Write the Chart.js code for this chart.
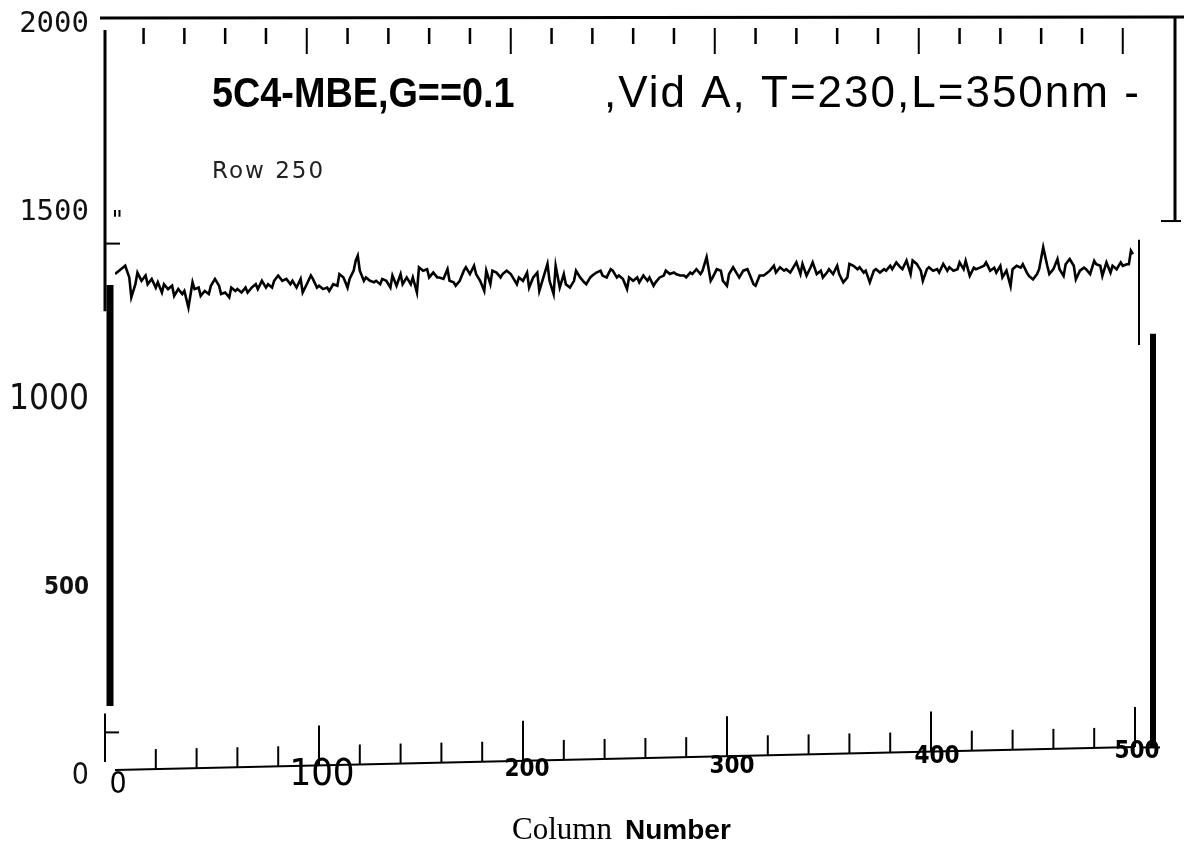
<!DOCTYPE html>
<html>
<head>
<meta charset="utf-8">
<style>
html,body{margin:0;padding:0;background:#fff;}
canvas{display:block;}
</style>
<script src="https://cdn.jsdelivr.net/npm/chart.js@4.4.1/dist/chart.umd.min.js"></script>
</head>
<body>
<canvas id="c" width="1184" height="853"></canvas>
<script>
// ---- data (Row 250) ----
const columns = [
0,2,5,7,8,10,11,13,15,16,18,20,21,23,24,26,28,29,31,33,34,36,38,39,41,42,44,46,47,49,51,52,54,56,57,59,60,62,64,65,67,69,70,72,74,75,77,78,80,82,
84,86,87,89,91,92,94,96,97,99,100,102,104,105,107,109,110,112,114,115,117,118,119,120,122,123,125,127,128,130,131,133,135,136,138,140,141,143,145,146,148,149,151,153,154,156,158,159,161,163,164,166,
167,169,171,172,174,176,177,179,181,182,184,185,187,189,190,192,194,195,197,198,200,202,203,205,207,208,210,212,213,215,216,218,220,221,223,225,226,228,230,231,233,234,236,238,239,241,243,244,246,247,249,
251,252,254,256,257,259,261,262,264,265,267,269,270,272,274,275,277,279,280,282,283,285,287,288,290,292,293,295,297,298,300,301,303,305,306,308,310,311,313,314,316,318,319,321,323,324,326,328,329,331,
332,334,336,337,339,341,342,344,346,347,349,350,352,354,355,357,359,360,362,364,365,367,368,370,372,373,375,377,378,380,381,383,385,386,388,390,391,393,395,396,398,399,401,403,404,406,408,409,411,413,414,416,
417,419,421,422,424,426,427,429,431,432,434,435,437,439,440,442,444,445,447,448,450,452,453,455,457,458,460,462,463,465,466,468,470,471,473,475,476,478,480,481,483,484,486,488,489,491,493,494,496,497,498,499];
const intensity = [
1319,1328,1341,1310,1257,1292,1323,1301,1315,1292,1306,1283,1297,1270,1292,1279,1288,1261,1279,1266,1274,1230,1297,1279,1283,1261,1274,1266,1288,1306,1288,1266,1270,1257,1283,1274,1279,1270,1283,1270,1283,1292,1279,1301,1283,1292,1283,1301,1315,1301,
1306,1292,1301,1283,1306,1270,1292,1315,1306,1283,1288,1279,1283,1274,1292,1288,1319,1310,1283,1306,1328,1355,1368,1328,1301,1310,1301,1297,1301,1292,1306,1301,1283,1315,1288,1319,1292,1310,1292,1310,1270,1337,1328,1332,1310,1323,1310,1310,1306,1332,1301,1297,
1288,1301,1328,1337,1319,1341,1319,1301,1274,1328,1292,1328,1323,1310,1319,1328,1319,1310,1292,1310,1301,1323,1283,1310,1323,1274,1310,1346,1301,1266,1341,1283,1319,1292,1283,1301,1328,1310,1297,1292,1310,1315,1323,1328,1315,1310,1332,1328,1310,1315,1306,
1279,1310,1301,1310,1297,1315,1301,1310,1288,1297,1310,1315,1328,1319,1323,1319,1315,1315,1310,1323,1319,1332,1319,1328,1364,1301,1310,1332,1328,1301,1288,1319,1337,1319,1310,1328,1332,1319,1292,1288,1315,1315,1319,1328,1341,1323,1337,1328,1332,1323,
1332,1350,1319,1346,1315,1337,1350,1319,1328,1310,1323,1332,1319,1341,1319,1297,1310,1346,1341,1332,1337,1323,1328,1297,1328,1332,1323,1332,1328,1341,1332,1350,1337,1332,1355,1319,1355,1346,1328,1301,1332,1337,1328,1332,1323,1346,1328,1337,1328,1332,1350,1332,
1354,1314,1336,1332,1336,1341,1350,1328,1336,1323,1341,1310,1328,1287,1332,1341,1336,1345,1323,1314,1305,1319,1332,1390,1341,1319,1332,1359,1332,1314,1345,1359,1341,1305,1328,1336,1332,1319,1354,1345,1341,1314,1350,1323,1341,1332,1350,1341,1345,1345,1381,1372];
const xTicks = [0,100,200,300,400,500];
const yTicks = [0,500,1000,1500,2000];
const titleBold = "5C4-MBE,G==0.1";
const titleRest = ",Vid A, T=230,L=350nm -";
const subTitle = "Row 250";
const xTitleA = "Column";
const xTitleB = "Number";

const COND = "'DejaVu Sans Condensed','DejaVu Sans', sans-serif";
const MONO = "'DejaVu Sans Mono', monospace";
const yFonts = {
  2000:{family:MONO, size:29, weight:'normal'},
  1500:{family:MONO, size:29, weight:'normal'},
  1000:{family:COND, size:35, weight:'normal'},
  500:{family:COND, size:24, weight:'bold'},
  0:{family:COND, size:30, weight:'normal'}
};
// per-label look of the x tick labels in the scan (font, nudge relative to the tick)
const xLabelStyle = {
  0:{font:"30px "+COND, dx:3, dy:15},
  100:{font:"38px "+COND, dx:3, dy:5},
  200:{font:"bold 24px "+COND, dx:4, dy:0},
  300:{font:"bold 24px "+COND, dx:5, dy:-3},
  400:{font:"bold 24px "+COND, dx:6, dy:-13},
  500:{font:"bold 24px "+COND, dx:2, dy:-18}
};

const points = columns.map((c,i)=>({x:c,y:intensity[i]}));

const decor = {
  id:'decor',
  beforeDatasetsDraw(chart){
    const ctx = chart.ctx, xs = chart.scales.x, ys = chart.scales.y, ca = chart.chartArea;
    ctx.save();
    ctx.strokeStyle = '#000';
    ctx.lineCap = 'butt';
    const line = (x1,y1,x2,y2,w)=>{ctx.lineWidth=w;ctx.beginPath();ctx.moveTo(x1,y1);ctx.lineTo(x2,y2);ctx.stroke();};
    const top = ys.getPixelForValue(2000);
    // top border
    line(ca.left-15, top, chart.width, top-1, 3);
    // top ticks
    for(let k=1;k<=25;k++){
      const c = 20*k-6;
      const x = xs.getPixelForValue(c);
      const long = k%5===0;
      line(x, top+10, x, top+(long?36:26), long?2:2.5);
    }
    // left axis
    const lx = ca.left-10;
    line(lx, top+12, lx, ys.getPixelForValue(1220), 3);
    line(lx+5, ys.getPixelForValue(1290), lx+5, ys.getPixelForValue(170), 7);
    line(lx, ys.getPixelForValue(1400), lx+15, ys.getPixelForValue(1400), 2);
    line(lx, ys.getPixelForValue(100), lx+14, ys.getPixelForValue(100), 2);
    line(lx, ys.getPixelForValue(150), lx, ys.getPixelForValue(0)-8, 2);
    // bottom axis (slightly skewed as in the scan)
    const y0 = ys.getPixelForValue(0);
    const skew = 23;
    const by = c => y0 - skew*(c/500);
    line(xs.getPixelForValue(0), y0, xs.getPixelForValue(500), by(500), 2);
    for(let c=20;c<=500;c+=20){
      const x = xs.getPixelForValue(c);
      const major = c%100===0;
      const h = major ? 40 : 20;
      line(x, by(c), x, by(c)-h, 2);
    }
    // right side marks
    const rx = ca.right;
    line(rx+40, top, rx+40, ys.getPixelForValue(1460), 3);
    line(rx+26, ys.getPixelForValue(1460), rx+46, ys.getPixelForValue(1460), 2);
    line(rx+4, ys.getPixelForValue(1410), rx+4, ys.getPixelForValue(1130), 2);
    line(rx+18, ys.getPixelForValue(1160), rx+18, ys.getPixelForValue(60), 6);
    line(rx+5, ys.getPixelForValue(60), rx+25, ys.getPixelForValue(60), 2);
    ctx.restore();
  },
  afterDraw(chart){
    const ctx = chart.ctx, xs = chart.scales.x, ys = chart.scales.y;
    ctx.save();
    ctx.fillStyle = '#000';
    // x tick labels, placed from the x scale's own ticks
    ctx.textAlign = 'center';
    ctx.textBaseline = 'middle';
    const y0 = ys.getPixelForValue(0);
    xs.ticks.forEach(t=>{
      const st = xLabelStyle[t.value];
      ctx.font = st.font;
      ctx.fillText(String(t.value), xs.getPixelForValue(t.value)+st.dx, y0+st.dy);
    });
    ctx.textBaseline = 'alphabetic';
    ctx.textAlign = 'left';
    // title (bold, slightly condensed as in the scan)
    ctx.save();
    ctx.translate(212, 107);
    ctx.scale(0.9, 1);
    ctx.font = "bold 42px 'Liberation Sans', Arial, sans-serif";
    ctx.fillText(titleBold, 0, 0);
    ctx.restore();
    ctx.font = "44px 'Liberation Sans', Arial, sans-serif";
    ctx.letterSpacing = '2px';
    ctx.fillText(titleRest, 604, 107);
    ctx.fillStyle = '#222';
    ctx.font = "23px 'DejaVu Sans', sans-serif";
    ctx.fillText(subTitle, 212, 178);
    ctx.letterSpacing = '0px';
    ctx.fillStyle = '#000';
    ctx.font = "24px 'DejaVu Sans Mono', monospace";
    ctx.fillText('"', 110, 228);
    // x-axis title with mixed fonts
    ctx.font = "31px 'Liberation Serif', 'Times New Roman', serif";
    ctx.fillText(xTitleA, 512, 839);
    ctx.font = "bold 28px 'Liberation Sans', Arial, sans-serif";
    ctx.fillText(xTitleB, 625, 839);
    ctx.restore();
  }
};

new Chart(document.getElementById('c'), {
  type:'line',
  data:{datasets:[{
    label:'Row 250',
    data:points,
    borderColor:'#000',
    borderWidth:2.6,
    pointRadius:0,
    tension:0,
    fill:false
  }]},
  options:{
    responsive:false,
    animation:false,
    layout:{padding:{left:0,top:18,right:49,bottom:0}},
    plugins:{legend:{display:false},tooltip:{enabled:false},title:{display:false}},
    scales:{
      x:{
        type:'linear', min:0, max:500,
        afterBuildTicks(s){ s.ticks = xTicks.map(v=>({value:v})); },
        afterFit(s){ s.height = 83; s.paddingLeft = 0; s.paddingRight = 0; },
        grid:{display:false},
        border:{display:false},
        ticks:{display:false}
      },
      y:{
        type:'linear', min:0, max:2000,
        afterBuildTicks(s){ s.ticks = yTicks.map(v=>({value:v})); },
        afterFit(s){ s.width = 115; s.paddingTop = 0; s.paddingBottom = 0; },
        grid:{display:false},
        border:{display:false},
        ticks:{
          color:'#111', padding:18, autoSkip:false, labelOffset:6,
          callback:v=>String(v),
          font:(ctx)=> yFonts[ctx.tick && ctx.tick.value] || yFonts[0]
        }
      }
    }
  },
  plugins:[decor]
});
</script>
</body>
</html>
